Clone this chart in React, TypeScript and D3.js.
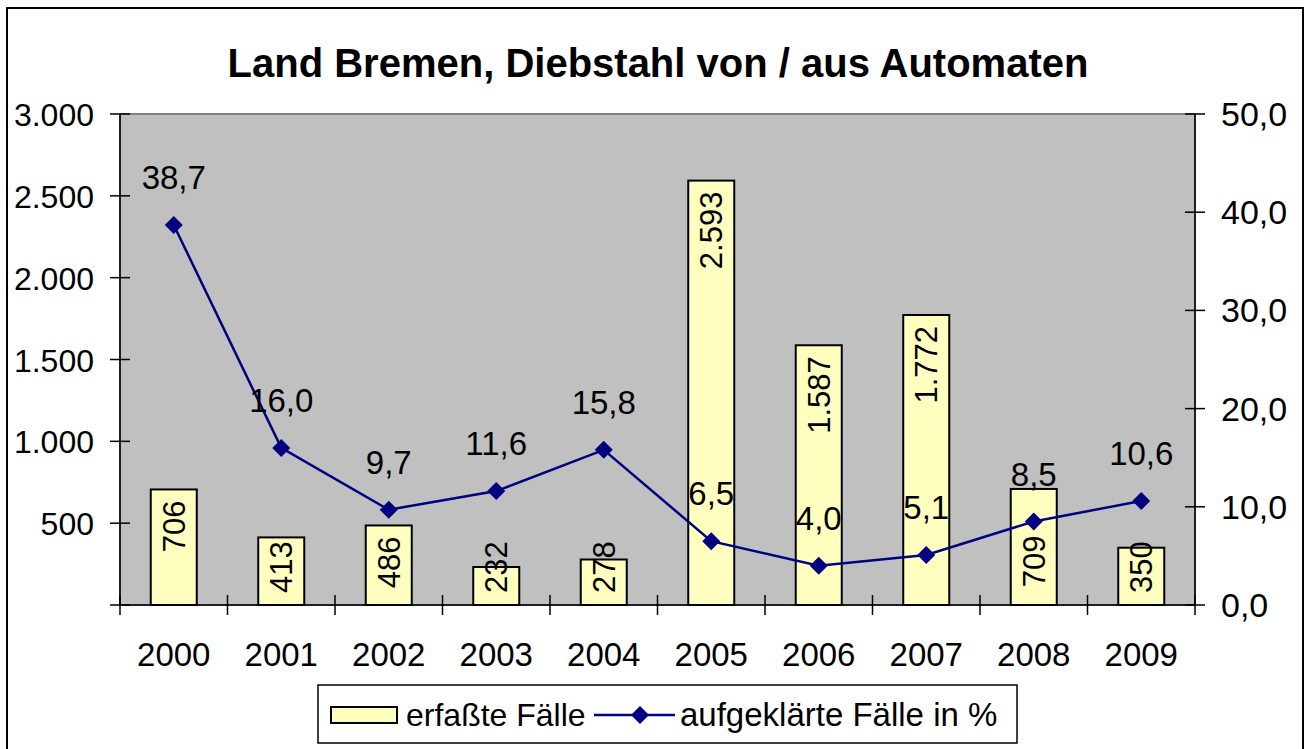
import React, { useEffect, useRef } from 'react';
import * as d3 from 'd3';

const years = ['2000', '2001', '2002', '2003', '2004', '2005', '2006', '2007', '2008', '2009'];
const cases = [706, 413, 486, 232, 278, 2593, 1587, 1772, 709, 350];
const clearedPct = [38.7, 16.0, 9.7, 11.6, 15.8, 6.5, 4.0, 5.1, 8.5, 10.6];
const leftTicks = [0, 500, 1000, 1500, 2000, 2500, 3000];
const rightTicks = [0, 10, 20, 30, 40, 50];

const FONT = 'Arial, "Liberation Sans", sans-serif';

const fmtInt = (v: number) => v.toString().replace(/\B(?=(\d{3})+(?!\d))/g, '.');
const fmtDec = (v: number) => v.toFixed(1).replace('.', ',');

function App() {
  const ref = useRef<SVGSVGElement | null>(null);

  useEffect(() => {
    const svg = d3.select(ref.current);
    svg.selectAll('*').remove();

    const left = 120, right = 1195, top = 114, bottom = 605;

    const x = d3.scaleBand<string>().domain(years).range([left, right]).paddingInner(0.572).paddingOuter(0.286);
    const yL = d3.scaleLinear().domain([0, 3000]).range([bottom, top]);
    const yR = d3.scaleLinear().domain([0, 50]).range([bottom, top]);
    const cx = (d: string) => (x(d) as number) + x.bandwidth() / 2;

    // outer frame
    svg.append('rect')
      .attr('x', 7).attr('y', 8).attr('width', 1296).attr('height', 760)
      .attr('fill', 'white').attr('stroke', '#000').attr('stroke-width', 2);

    svg.append('text')
      .attr('x', 658).attr('y', 77)
      .attr('text-anchor', 'middle')
      .style('font', `bold 40px ${FONT}`)
      .text('Land Bremen, Diebstahl von / aus Automaten');

    // plot area
    svg.append('rect')
      .attr('x', left).attr('y', top).attr('width', right - left).attr('height', bottom - top)
      .attr('fill', '#C0C0C0').attr('stroke', '#808080').attr('stroke-width', 2);

    // axes lines
    const axisG = svg.append('g').attr('stroke', '#000').attr('stroke-width', 1.5);
    axisG.append('line').attr('x1', left).attr('x2', left).attr('y1', top).attr('y2', bottom);
    axisG.append('line').attr('x1', right).attr('x2', right).attr('y1', top).attr('y2', bottom);
    axisG.append('line').attr('x1', left).attr('x2', right).attr('y1', bottom).attr('y2', bottom);

    axisG.selectAll('.tl').data(leftTicks).enter().append('line')
      .attr('x1', left - 10).attr('x2', left + 10)
      .attr('y1', d => yL(d)).attr('y2', d => yL(d));
    axisG.selectAll('.tr').data(rightTicks).enter().append('line')
      .attr('x1', right - 10).attr('x2', right + 10)
      .attr('y1', d => yR(d)).attr('y2', d => yR(d));
    axisG.selectAll('.tx').data(d3.range(years.length + 1)).enter().append('line')
      .attr('x1', i => left + i * x.step()).attr('x2', i => left + i * x.step())
      .attr('y1', bottom - 10).attr('y2', bottom + 10);

    svg.selectAll('.ll').data(leftTicks.filter(d => d > 0)).enter().append('text')
      .attr('x', 94).attr('y', d => yL(d) + 12)
      .attr('text-anchor', 'end')
      .style('font', `32px ${FONT}`)
      .text(d => fmtInt(d));
    svg.selectAll('.rl').data(rightTicks).enter().append('text')
      .attr('x', 1221).attr('y', d => yR(d) + 12)
      .style('font', `34px ${FONT}`)
      .text(d => fmtDec(d));
    svg.selectAll('.xl').data(years).enter().append('text')
      .attr('x', d => cx(d)).attr('y', 666)
      .attr('text-anchor', 'middle')
      .style('font', `33px ${FONT}`)
      .text(d => d);

    // bars
    svg.selectAll('.bar').data(years).enter().append('rect')
      .attr('x', d => x(d) as number)
      .attr('y', (d, i) => yL(cases[i]))
      .attr('width', x.bandwidth())
      .attr('height', (d, i) => bottom - yL(cases[i]))
      .attr('fill', '#FFFFC0').attr('stroke', '#000').attr('stroke-width', 2);

    // bar labels (rotated), moved below the marker when they would collide with it
    const s = 9;
    svg.selectAll('.bl').data(years).enter().append('text')
      .attr('text-anchor', 'end')
      .attr('dy', '0.35em')
      .style('font', `31px ${FONT}`)
      .text((d, i) => fmtInt(cases[i]))
      .each(function (d, i) {
        const el = this as SVGTextElement;
        const len = el.getComputedTextLength();
        let yEnd = Math.min(yL(cases[i]) + 11, bottom - 12 - len);
        const my = yR(clearedPct[i]);
        if (my + s > yEnd && my - s < yEnd + len) yEnd = Math.min(my + 14, bottom - 12 - len);
        d3.select(el).attr('transform', `translate(${cx(d)},${yEnd}) rotate(-90)`);
      });

    // line
    const line = d3.line<number>()
      .x((d, i) => cx(years[i]))
      .y(d => yR(d));
    svg.append('path')
      .attr('d', line(clearedPct) as string)
      .attr('fill', 'none').attr('stroke', '#000080').attr('stroke-width', 2.5);

    svg.selectAll('.mk').data(clearedPct).enter().append('path')
      .attr('d', (d, i) => {
        const px = cx(years[i]), py = yR(d);
        return `M${px},${py - s}L${px + s},${py}L${px},${py + s}L${px - s},${py}Z`;
      })
      .attr('fill', '#000080');

    svg.selectAll('.pl').data(clearedPct).enter().append('text')
      .attr('x', (d, i) => cx(years[i]))
      .attr('y', d => yR(d) - 36)
      .attr('text-anchor', 'middle')
      .style('font', `33px ${FONT}`)
      .text(d => fmtDec(d));

    // legend
    const lg = svg.append('g');
    lg.append('rect')
      .attr('x', 318).attr('y', 685).attr('width', 699).attr('height', 58)
      .attr('fill', 'white').attr('stroke', '#000').attr('stroke-width', 1.5);
    lg.append('rect')
      .attr('x', 331).attr('y', 707).attr('width', 66).attr('height', 16)
      .attr('fill', '#FFFFC0').attr('stroke', '#000').attr('stroke-width', 2);
    lg.append('text')
      .attr('x', 406).attr('y', 726)
      .style('font', `32px ${FONT}`)
      .text('erfaßte Fälle');
    lg.append('line')
      .attr('x1', 594).attr('x2', 675).attr('y1', 715).attr('y2', 715)
      .attr('stroke', '#000080').attr('stroke-width', 2.5);
    lg.append('path')
      .attr('d', `M640,${715 - s}L${640 + s},715L640,${715 + s}L${640 - s},715Z`)
      .attr('fill', '#000080');
    lg.append('text')
      .attr('x', 680).attr('y', 726)
      .style('font', `33px ${FONT}`)
      .text('aufgeklärte Fälle in %');
  }, []);

  return (
    <svg ref={ref} width={1305} height={749}
      style={{ position: 'absolute', left: 0, top: 0, background: 'white' }} />
  );
}

export default App;
